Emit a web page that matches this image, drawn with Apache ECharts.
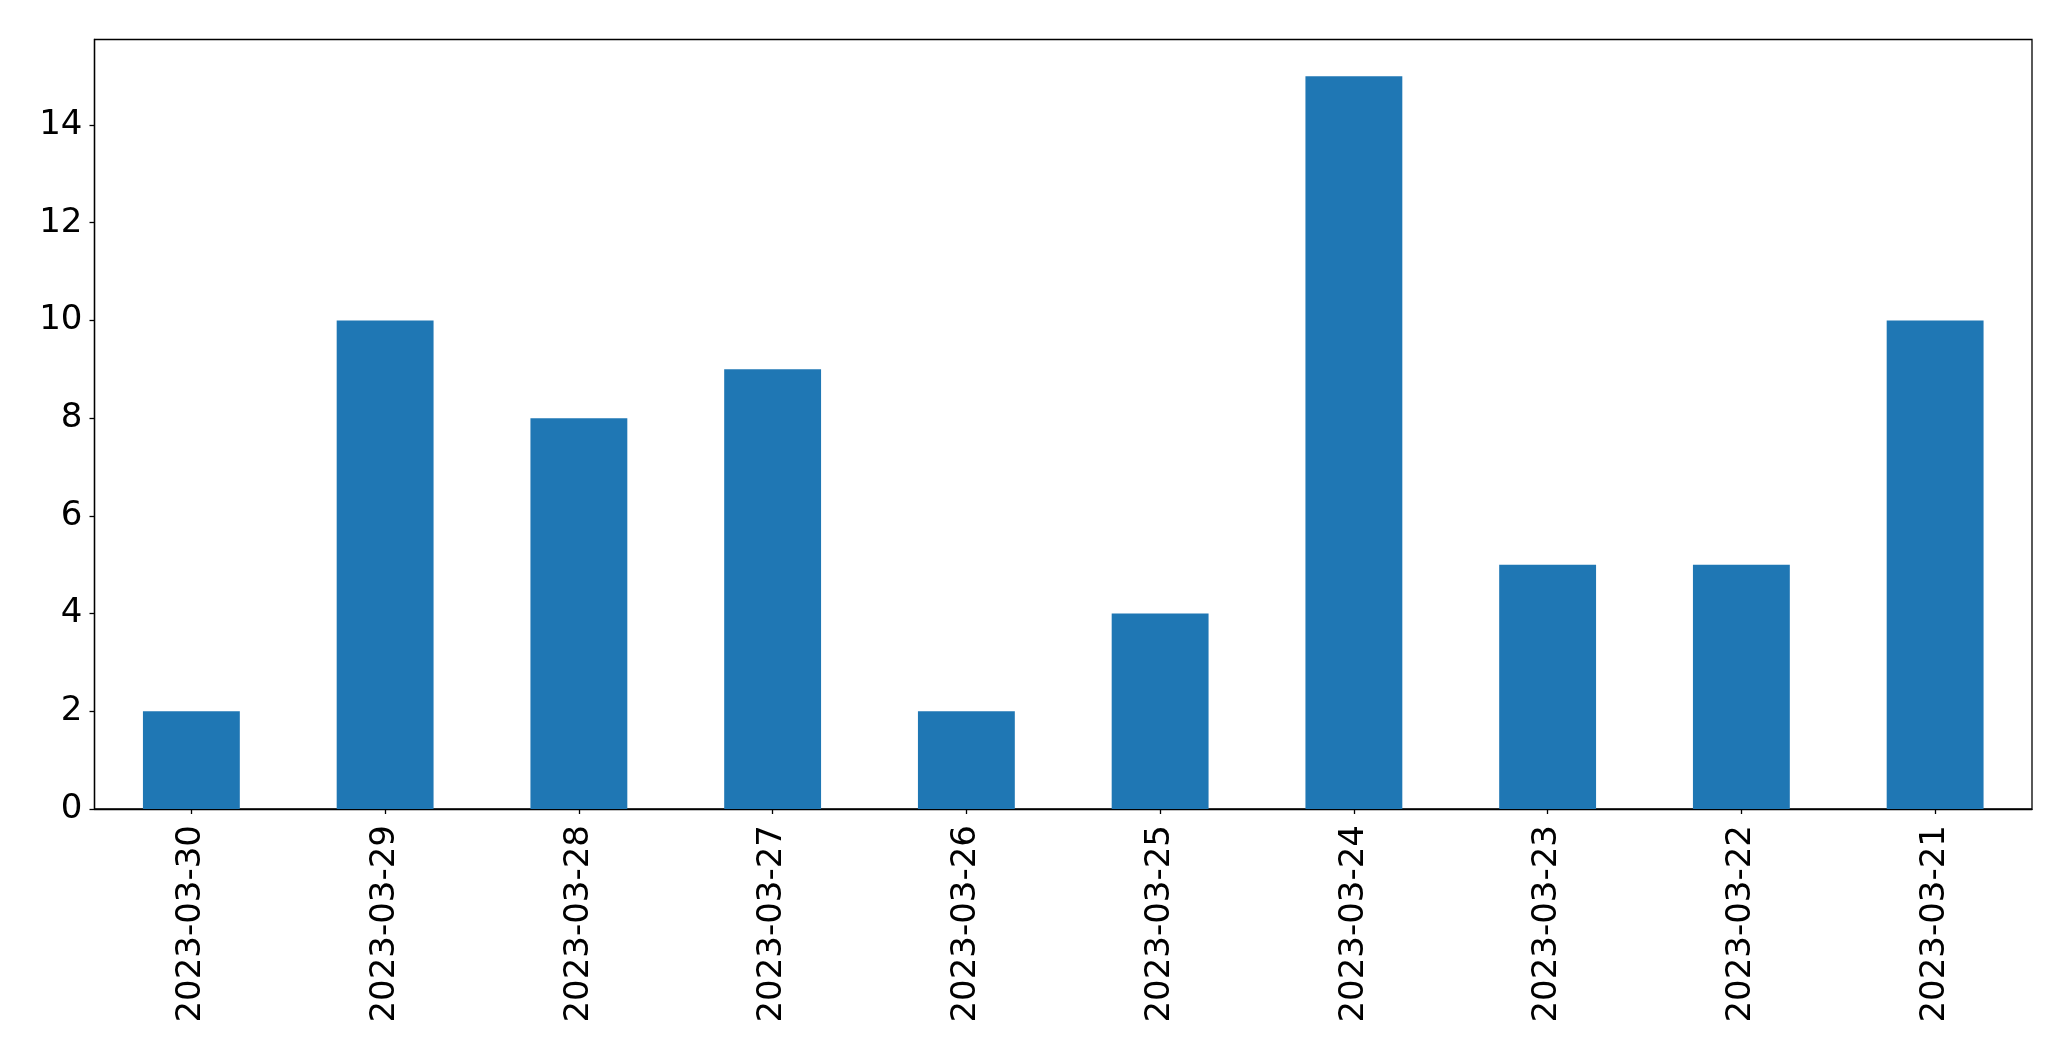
<!DOCTYPE html>
<html>
<head>
<meta charset="utf-8">
<script src="https://cdn.jsdelivr.net/npm/echarts@6/dist/echarts.min.js"></script>
<style>
html,body{margin:0;padding:0;background:#fff;}
#chart{width:2071px;height:1061px;}
</style>
</head>
<body>
<div id="chart"></div>
<script>
const categories = ['2023-03-30','2023-03-29','2023-03-28','2023-03-27','2023-03-26','2023-03-25','2023-03-24','2023-03-23','2023-03-22','2023-03-21'];
const values = [2, 10, 8, 9, 2, 4, 15, 5, 5, 10];
const yTicks = [0, 2, 4, 6, 8, 10, 12, 14];

const chart = echarts.init(document.getElementById('chart'), null, {renderer: 'canvas'});
const font = 'DejaVu Sans';
chart.setOption({
  animation: false,
  backgroundColor: '#ffffff',
  grid: {
    left: 94.5, right: 39, top: 39.5, bottom: 252,
    show: true, borderColor: '#000', borderWidth: 1.3, backgroundColor: 'transparent'
  },
  xAxis: {
    type: 'category',
    data: categories,
    boundaryGap: true,
    axisLine: {show: true, lineStyle: {color: '#000', width: 1.3}},
    axisTick: {show: true, alignWithLabel: true, length: 5, lineStyle: {color: '#000', width: 1.3}},
    axisLabel: {rotate: 90, margin: 16, fontSize: 34, fontFamily: font, color: '#000', interval: 0},
    splitLine: {show: false}
  },
  yAxis: {
    type: 'value',
    min: 0, max: 15.75, interval: 2,
    axisLine: {show: true, lineStyle: {color: '#000', width: 1.3}},
    axisTick: {show: true, length: 5, customValues: yTicks, lineStyle: {color: '#000', width: 1.3}},
    axisLabel: {margin: 12, fontSize: 34, fontFamily: font, color: '#000', customValues: yTicks},
    splitLine: {show: false}
  },
  series: [{
    type: 'bar',
    data: values,
    barWidth: '50%',
    itemStyle: {color: '#1f77b4'}
  }]
});
</script>
</body>
</html>
